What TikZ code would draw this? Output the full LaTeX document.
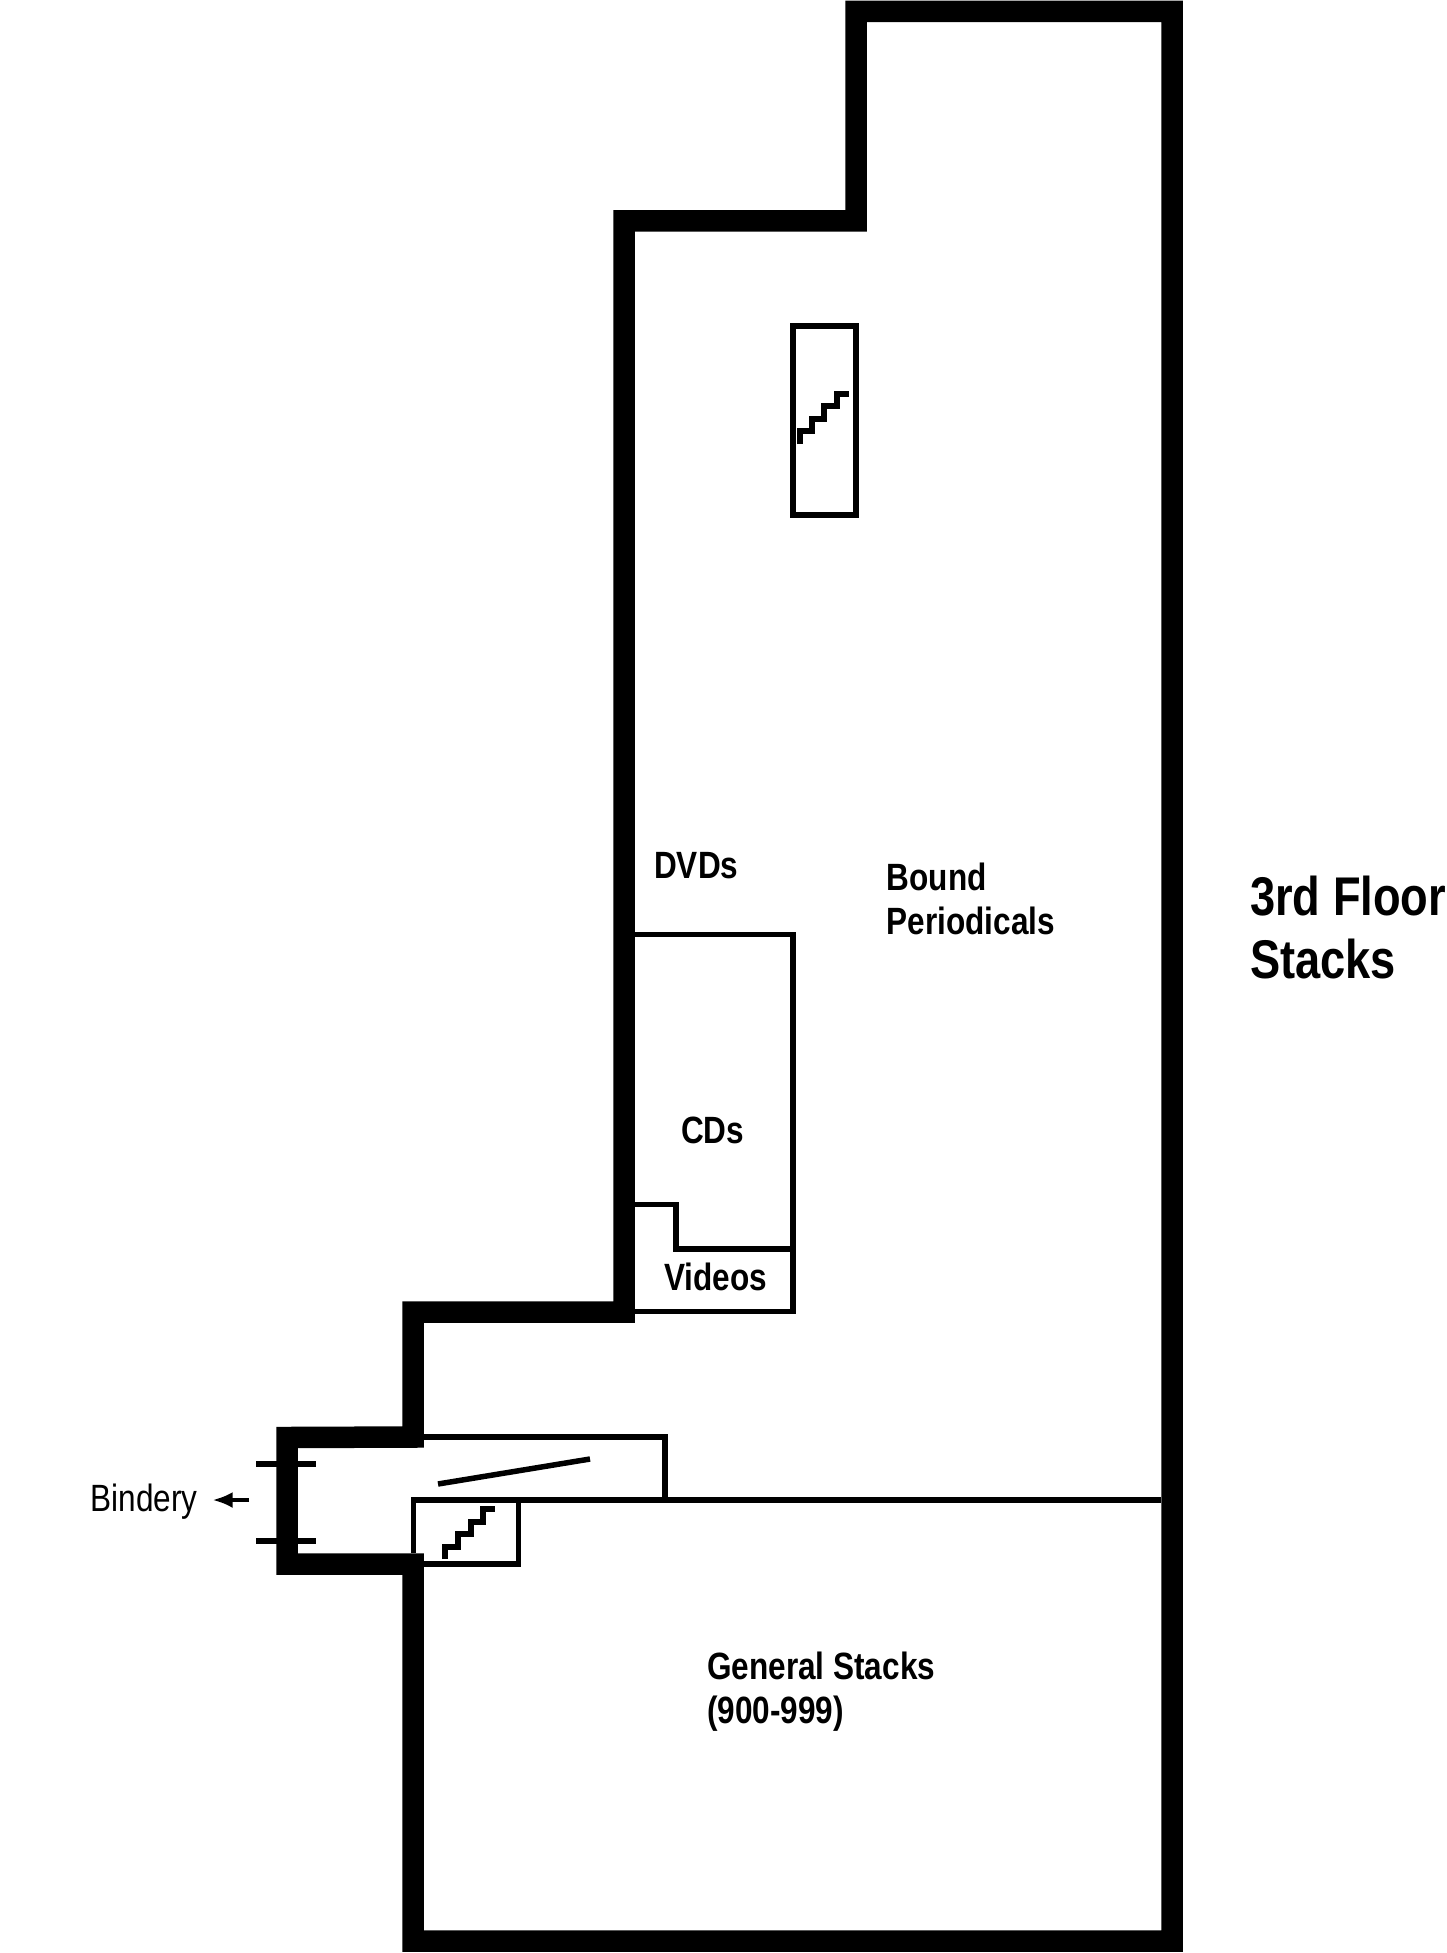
\documentclass[tikz,border=0pt]{standalone}
\usepackage{fontspec}
\setmainfont{Liberation Sans}
\newfontfamily\plannarrow[FakeStretch=0.83]{Liberation Sans}
\usetikzlibrary{arrows.meta}
\tikzset{
wall/.style={draw=black, line width=21.5pt, line join=miter},
thinwall/.style={draw=black, line width=5.5pt, line join=miter},
stairline/.style={draw=black, line width=6pt, line join=miter},
roomlabel/.style={inner sep=0pt, anchor=base west, align=left, font=\plannarrow\bfseries\fontsize{38}{44}\selectfont},
floorlabel/.style={inner sep=0pt, anchor=base west, align=left, font=\plannarrow\bfseries\fontsize{54.5}{63}\selectfont},
exitlabel/.style={inner ysep=0pt, inner xsep=15pt, anchor=base, font=\plannarrow\fontsize{38}{44}\selectfont},
>={Latex[width=16pt,length=20pt]}
}
\begin{document}
\begin{tikzpicture}[x=1pt, y=-1pt]
\useasboundingbox (0,0) rectangle (1446,1953);

%Outer walls
\draw[wall] (413,1437) -- (413,1312) -- (624,1312) -- (624,221) -- (856,221) -- (856,11.5)
 -- (1172,11.5) -- (1172,1941) -- (413,1941) -- (413,1564) -- (287,1564) -- (287,1437.5) -- cycle;

%Doors of the bindery
\draw[thinwall] (256,1464) -- (316,1464);
\draw[thinwall] (256,1541) -- (316,1541);

%Corridor and small stair room
\draw[thinwall] (424,1437) -- (665,1437) -- (665,1500);
\draw[thinwall] (411,1500) -- (1161,1500);
\draw[thinwall] (413.5,1497.5) -- (413.5,1553);
\draw[thinwall] (518.5,1500) -- (518.5,1564) -- (424,1564);
\draw[thinwall] (438,1484) -- (590,1459);
\draw[stairline] (445,1559) |- (458,1546.5) |- (471,1534) |- (483,1521.5) |- (495,1509);

%Media rooms
\draw[thinwall] (635,934.5) -- (793,934.5) -- (793,1311.5) -- (635,1311.5);
\draw[thinwall] (635,1204.5) -- (676,1204.5) -- (676,1249) -- (793,1249);

%Main stairs
\draw[thinwall] (793,326) rectangle (856,515);
\draw[stairline] (799.5,444) |- (812,431) |- (824,418.5) |- (837,406) |- (849,393.5);

%Labels
\node[roomlabel] (dvds) at(654,878) {DVDs};
\node[roomlabel] (cds) at(681,1143) {CDs};
\node[roomlabel] (videos) at(664,1290) {Videos};
\node[roomlabel] (periodicals) at(886.5,934) {Bound\\Periodicals};
\node[roomlabel] (general) at(707,1723) {General Stacks\\(900-999)};
\node[floorlabel] (floor) at(1250,978) {3rd Floor\\Stacks};
\node[exitlabel] (bindery) at(144,1511) {Bindery};

\coordinate (binderydoor) at(249,1500);
\draw[->, line width=3.5pt] (binderydoor) -- (binderydoor -| bindery.east);
\end{tikzpicture}
\end{document}
